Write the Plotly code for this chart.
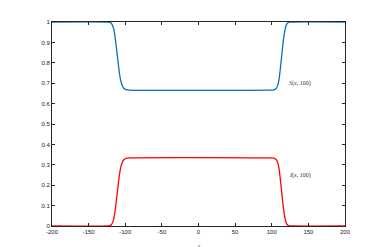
import plotly.graph_objects as go

x_pts = [-200, -124, -121, -119, -116, -114, -112, -110, -108, -106, -104, -102, -99, -95,
         95, 103, 106, 108, 110, 112, 114, 116, 118, 120, 122, 124, 127, 200]
I_vals = [0.0, 0.0, 0.002, 0.006, 0.03, 0.07, 0.13, 0.19, 0.25, 0.29, 0.313, 0.325, 0.332, 0.334,
          0.334, 0.333, 0.326, 0.312, 0.28, 0.22, 0.15, 0.085, 0.04, 0.013, 0.004, 0.001, 0.0, 0.0]
S_vals = [1.0, 1.0, 0.998, 0.994, 0.97, 0.93, 0.87, 0.81, 0.75, 0.71, 0.687, 0.675, 0.668, 0.666,
          0.666, 0.667, 0.674, 0.688, 0.72, 0.78, 0.85, 0.915, 0.96, 0.987, 0.996, 0.999, 1.0, 1.0]
x_ticks = [-200, -150, -100, -50, 0, 50, 100, 150, 200]
y_ticks = [0, 0.1, 0.2, 0.3, 0.4, 0.5, 0.6, 0.7, 0.8, 0.9, 1]
y_labels = ["0", "0.1", "0.2", "0.3", "0.4", "0.5", "0.6", "0.7", "0.8", "0.9", "1"]

fig = go.Figure()
fig.add_trace(go.Scatter(x=x_pts, y=S_vals, mode="lines", line=dict(color="#0072BD", width=1.3, shape="spline", smoothing=0.6)))
fig.add_trace(go.Scatter(x=x_pts, y=I_vals, mode="lines", line=dict(color="#FF0000", width=1.3, shape="spline", smoothing=0.6)))

axis_common = dict(showgrid=False, zeroline=False, showline=True, linecolor="#262626", linewidth=1,
                   mirror="ticks", ticks="inside", ticklen=3, tickcolor="#262626",
                   tickfont=dict(family="Liberation Sans", size=6, color="#1a1a1a"))
fig.update_xaxes(range=[-200, 200], tickvals=x_ticks, ticktext=[str(v) for v in x_ticks], **axis_common)
fig.update_yaxes(range=[0, 1], tickvals=y_ticks, ticktext=y_labels, **axis_common)

fig.add_annotation(x=0.802, y=0.70, xref="paper", yref="paper", text="<i>S</i>(<i>x</i>, 100)", showarrow=False,
                   font=dict(family="Liberation Serif", size=6, color="#333333"), xanchor="left", yanchor="middle")
fig.add_annotation(x=0.802, y=0.246, xref="paper", yref="paper", text="<i>I</i>(<i>x</i>, 100)", showarrow=False,
                   font=dict(family="Liberation Serif", size=6, color="#333333"), xanchor="left", yanchor="middle")
fig.add_annotation(x=0.5, y=-0.075, xref="paper", yref="paper", text="<i>x</i>", showarrow=False, yanchor="top",
                   font=dict(family="Liberation Serif", size=5, color="#555555"))

fig.update_layout(width=367, height=247, margin=dict(l=44, r=30, t=11, b=29),
                  paper_bgcolor="white", plot_bgcolor="white", showlegend=False)
fig.write_html("out.html")
